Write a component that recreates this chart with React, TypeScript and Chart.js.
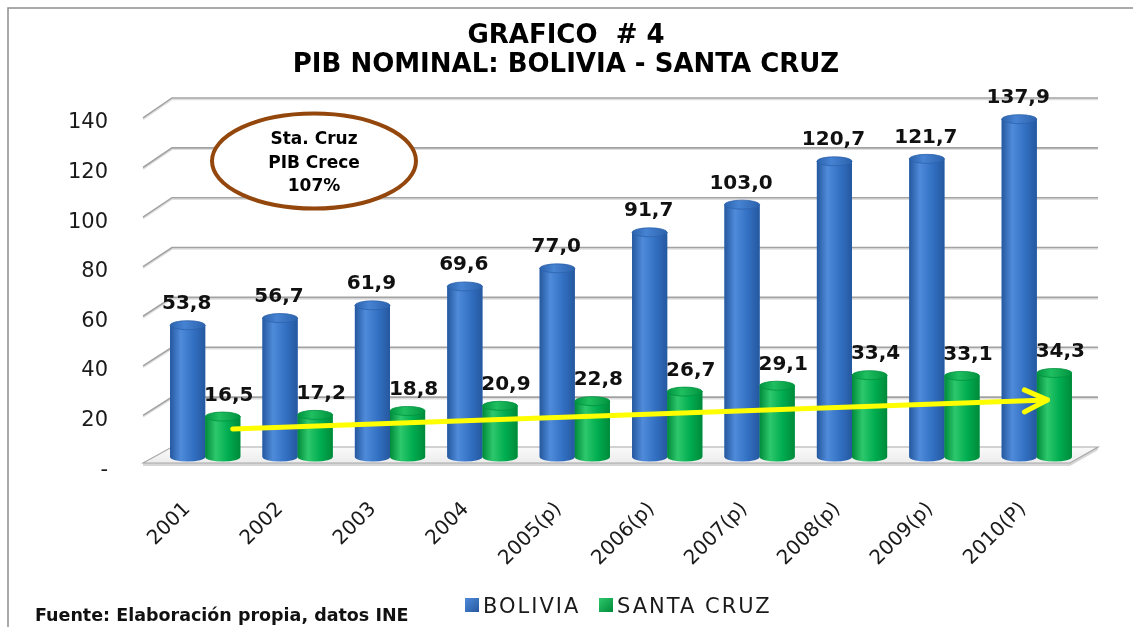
import React, { useEffect, useRef } from "react";
import { Chart, registerables } from "chart.js";

Chart.register(...registerables);

const CATEGORIES = ["2001", "2002", "2003", "2004", "2005(p)", "2006(p)", "2007(p)", "2008(p)", "2009(p)", "2010(P)"];
const BOLIVIA = [53.8, 56.7, 61.9, 69.6, 77.0, 91.7, 103.0, 120.7, 121.7, 137.9];
const SANTA_CRUZ = [16.5, 17.2, 18.8, 20.9, 22.8, 26.7, 29.1, 33.4, 33.1, 34.3];
const Y_TICKS = [0, 20, 40, 60, 80, 100, 120, 140];
const SERIES_NAMES = ["BOLIVIA", "SANTA CRUZ"];
const TITLE_LINES = ["GRAFICO  # 4", "PIB NOMINAL: BOLIVIA - SANTA CRUZ"];
const NOTE_LINES = ["Sta. Cruz", "PIB Crece", "107%"];
const TREND_VALUES = [11.4, 23.3];
const SOURCE = "Fuente: Elaboración propia, datos INE";

const BOLD = "'DejaVu Sans', sans-serif";
const REG = "'DejaVu Sans', sans-serif";

const SHADES = [
  { dark: "#25589f", mid: "#3371c4", light: "#4f8bda", top: "#4683d3", rim: "#2c62ac" },
  { dark: "#008a3a", mid: "#00ad50", light: "#2ec86c", top: "#1fbf60", rim: "#00933f" },
];

const fmt = (v: number) => (v === 0 ? "-" : v.toFixed(1).replace(".", ","));
const fmtTick = (v: number) => (v === 0 ? "-" : String(v));

function cylinder(ctx: CanvasRenderingContext2D, x: number, y: number, base: number, w: number, s: any) {
  const l = x - w / 2;
  const r = x + w / 2;
  const ry = 4.5;
  const g = ctx.createLinearGradient(l, 0, r, 0);
  g.addColorStop(0, s.dark);
  g.addColorStop(0.3, s.light);
  g.addColorStop(0.65, s.mid);
  g.addColorStop(1, s.dark);
  ctx.beginPath();
  ctx.moveTo(l, y);
  ctx.lineTo(l, base);
  ctx.ellipse(x, base, w / 2, ry, 0, Math.PI, 0, true);
  ctx.lineTo(r, y);
  ctx.closePath();
  ctx.fillStyle = g;
  ctx.fill();
  const tg = ctx.createLinearGradient(l, 0, r, 0);
  tg.addColorStop(0, s.rim);
  tg.addColorStop(0.4, s.top);
  tg.addColorStop(1, s.rim);
  ctx.beginPath();
  ctx.ellipse(x, y, w / 2, ry, 0, 0, Math.PI * 2);
  ctx.fillStyle = tg;
  ctx.fill();
  ctx.lineWidth = 0.8;
  ctx.strokeStyle = s.rim;
  ctx.stroke();
}

const decor = {
  id: "decor",
  beforeDatasetsDraw(chart: any) {
    const { ctx, chartArea: a, scales } = chart;
    const y = scales.y;
    const b = a.bottom;
    const backY = (v: number) => b - 10 - (b - y.getPixelForValue(v)) * 1.0176;
    const frontY = (v: number) => b + 11 - (b - y.getPixelForValue(v)) * 1.0118;
    const bx0 = a.left + 13;
    const bx1 = a.right + 15;
    const fx0 = a.left - 16;
    const fx1 = a.right - 13;
    ctx.save();
    // floor slab
    const fy = frontY(0) - 5;
    const by0 = backY(0);
    ctx.fillStyle = "#d6d6d6";
    ctx.beginPath();
    ctx.moveTo(fx0, fy);
    ctx.lineTo(fx1, fy);
    ctx.lineTo(bx1, by0);
    ctx.lineTo(bx1, by0 + 3);
    ctx.lineTo(fx1, fy + 3);
    ctx.lineTo(fx0, fy + 3);
    ctx.closePath();
    ctx.fill();
    ctx.beginPath();
    ctx.moveTo(fx0, fy);
    ctx.lineTo(bx0, by0);
    ctx.lineTo(bx1, by0);
    ctx.lineTo(fx1, fy);
    ctx.closePath();
    const fg = ctx.createLinearGradient(0, by0, 0, fy);
    fg.addColorStop(0, "#fafafa");
    fg.addColorStop(1, "#ececec");
    ctx.fillStyle = fg;
    ctx.fill();
    ctx.strokeStyle = "#a8a8a8";
    ctx.lineWidth = 1.2;
    ctx.stroke();
    // grid lines
    Y_TICKS.forEach((v) => {
      if (v === 0) return;
      const yy = backY(v);
      ctx.strokeStyle = "#dedede";
      ctx.lineWidth = 1.5;
      ctx.beginPath();
      ctx.moveTo(fx0, frontY(v) - 1.5);
      ctx.lineTo(bx0, yy + 1.5);
      ctx.lineTo(bx1, yy + 1.5);
      ctx.stroke();
      ctx.strokeStyle = "#a2a2a2";
      ctx.lineWidth = 1.6;
      ctx.beginPath();
      ctx.moveTo(fx0, frontY(v) - 3);
      ctx.lineTo(bx0, yy);
      ctx.lineTo(bx1, yy);
      ctx.stroke();
    });
    ctx.restore();
  },
  afterDatasetsDraw(chart: any) {
    const { ctx, scales } = chart;
    ctx.save();
    [0, 1].forEach((di) => {
      const meta = chart.getDatasetMeta(di);
      meta.data.forEach((el: any) => {
        const p = el.getProps(["x", "y", "base", "width"], true);
        cylinder(ctx, p.x, p.y, p.base, p.width, SHADES[di]);
      });
    });
    // trend arrow
    const g = chart.getDatasetMeta(1).data;
    const x0 = g[0].x + 10;
    const x1 = g[g.length - 1].x - 7;
    const y0 = scales.y.getPixelForValue(TREND_VALUES[0]);
    const y1 = scales.y.getPixelForValue(TREND_VALUES[1]);
    ctx.strokeStyle = "#ffff00";
    ctx.lineWidth = 5;
    ctx.lineCap = "round";
    ctx.lineJoin = "round";
    ctx.beginPath();
    ctx.moveTo(x0, y0);
    ctx.lineTo(x1, y1);
    ctx.stroke();
    ctx.beginPath();
    ctx.moveTo(x1 - 23, y1 - 10);
    ctx.lineTo(x1, y1);
    ctx.lineTo(x1 - 23, y1 + 12);
    ctx.stroke();
    // data labels
    ctx.fillStyle = "#111";
    ctx.font = `bold 20px ${BOLD}`;
    ctx.textAlign = "center";
    ctx.textBaseline = "alphabetic";
    [BOLIVIA, SANTA_CRUZ].forEach((arr, di) => {
      const meta = chart.getDatasetMeta(di);
      meta.data.forEach((el: any, i: number) => {
        const dx = di === 0 ? -1 : 6;
        ctx.fillText(fmt(arr[i]), el.x + dx, el.y - 16);
      });
    });
    ctx.restore();
  },
  afterDraw(chart: any) {
    const { ctx, chartArea: a, scales } = chart;
    const y = scales.y;
    const x = scales.x;
    const b = a.bottom;
    const frontY = (v: number) => b + 11 - (b - y.getPixelForValue(v)) * 1.0118;
    ctx.save();
    // border
    ctx.strokeStyle = "#8f8f8f";
    ctx.lineWidth = 1.5;
    ctx.beginPath();
    ctx.moveTo(8, 640);
    ctx.lineTo(8, 8);
    ctx.lineTo(1140, 8);
    ctx.stroke();
    // title
    ctx.fillStyle = "#000";
    ctx.textAlign = "center";
    ctx.textBaseline = "alphabetic";
    ctx.font = `bold 26px ${BOLD}`;
    ctx.fillText(TITLE_LINES[0], 566, 43);
    ctx.fillText(TITLE_LINES[1], 566, 72);
    // y tick labels
    ctx.font = `21px ${REG}`;
    ctx.fillStyle = "#1a1a1a";
    ctx.textAlign = "right";
    Y_TICKS.forEach((v) => {
      ctx.fillText(fmtTick(v), a.left - 51, frontY(v) + 7.5);
    });
    // category labels
    ctx.font = `20px ${REG}`;
    ctx.textAlign = "right";
    ctx.textBaseline = "middle";
    CATEGORIES.forEach((c, i) => {
      const cx = x.getPixelForValue(i);
      ctx.save();
      ctx.translate(cx * 1.005 - 19, b + 49);
      ctx.rotate(-Math.PI / 4);
      ctx.fillText(c, 0, 0);
      ctx.restore();
    });
    // annotation ellipse
    ctx.beginPath();
    ctx.ellipse(314, 161, 102, 47.5, 0, 0, Math.PI * 2);
    ctx.fillStyle = "#ffffff";
    ctx.fill();
    ctx.strokeStyle = "#94470c";
    ctx.lineWidth = 4;
    ctx.stroke();
    ctx.fillStyle = "#000";
    ctx.font = `bold 17px ${BOLD}`;
    ctx.textAlign = "center";
    ctx.textBaseline = "alphabetic";
    [144, 168, 191].forEach((yy, i) => ctx.fillText(NOTE_LINES[i], 314, yy));
    // legend
    const items = [
      { x: 465, name: SERIES_NAMES[0], s: SHADES[0] },
      { x: 599, name: SERIES_NAMES[1], s: SHADES[1] },
    ];
    items.forEach((it) => {
      const lg = ctx.createLinearGradient(it.x, 598, it.x + 14, 612);
      lg.addColorStop(0, it.s.light);
      lg.addColorStop(1, it.s.dark);
      ctx.fillStyle = lg;
      ctx.fillRect(it.x, 598, 14, 14);
      ctx.fillStyle = "#1a1a1a";
      ctx.font = `21px ${REG}`;
      (ctx as any).letterSpacing = "2px";
      ctx.textAlign = "left";
      ctx.fillText(it.name, it.x + 18, 613);
      (ctx as any).letterSpacing = "0px";
    });
    // source
    ctx.fillStyle = "#111";
    ctx.font = `bold 17.5px ${BOLD}`;
    ctx.textAlign = "left";
    ctx.fillText(SOURCE, 35, 621);
    ctx.restore();
  },
};

export default function App() {
  const ref = useRef<HTMLCanvasElement>(null);
  useEffect(() => {
    const chart = new Chart(ref.current as HTMLCanvasElement, {
      type: "bar",
      data: {
        labels: CATEGORIES,
        datasets: [
          { label: SERIES_NAMES[0], data: BOLIVIA, backgroundColor: SHADES[0].mid, borderWidth: 0 },
          { label: SERIES_NAMES[1], data: SANTA_CRUZ, backgroundColor: SHADES[1].mid, borderWidth: 0 },
        ],
      },
      options: {
        responsive: false,
        animation: false,
        devicePixelRatio: 1,
        events: [],
        layout: { padding: { left: 159, right: 50, top: 114, bottom: 170 } },
        datasets: { bar: { categoryPercentage: 0.76, barPercentage: 1 } },
        scales: {
          x: { display: false },
          y: { display: false, min: 0, max: 140 },
        },
        plugins: {
          legend: { display: false },
          title: { display: false },
          tooltip: { enabled: false },
        },
      },
      plugins: [decor],
    } as any);
    return () => chart.destroy();
  }, []);
  return (
    <canvas
      ref={ref}
      width={1133}
      height={627}
      style={{ position: "fixed", left: 0, top: 0, width: 1133, height: 627, display: "block" }}
    />
  );
}
